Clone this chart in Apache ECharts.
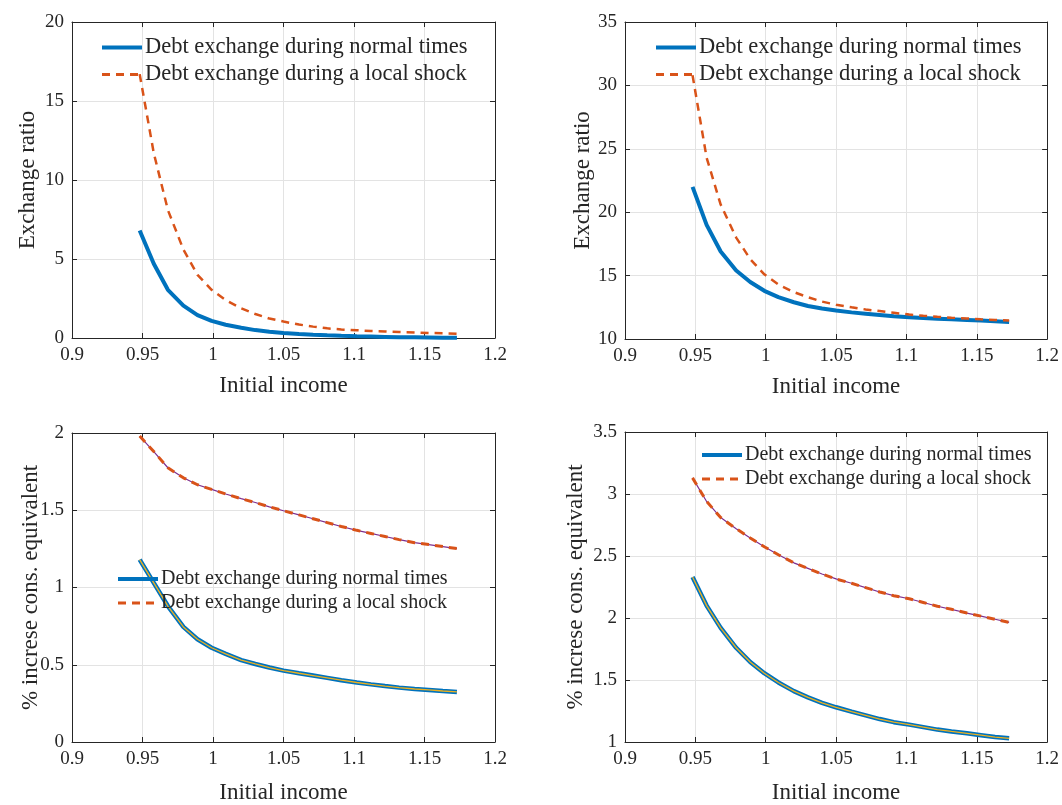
<!DOCTYPE html>
<html>
<head>
<meta charset="utf-8">
<script src="https://cdn.jsdelivr.net/npm/echarts@6/dist/echarts.min.js"></script>
<style>
  html, body { margin: 0; padding: 0; background: #fff; }
  #chart { width: 1062px; height: 805px; }
</style>
</head>
<body>
<div id="chart"></div>
<script>
// initial income grid (shared by all panels)
const incomeX = [0.948, 0.958, 0.968, 0.979, 0.989, 0.999, 1.009, 1.020, 1.030, 1.040, 1.050, 1.061,
  1.071, 1.081, 1.091, 1.102, 1.112, 1.122, 1.132, 1.143, 1.153, 1.163, 1.173]

// top left: exchange ratio
const ratioNormalA = [6.8, 4.7, 3.05, 2.05, 1.45, 1.08, 0.84, 0.65, 0.5, 0.4, 0.32, 0.26, 0.21, 0.17,
  0.14, 0.11, 0.09, 0.07, 0.05, 0.04, 0.03, 0.02, 0.02]
const ratioShockA = [16.7, 11.7, 8.1, 5.6, 4.0, 3.05, 2.4, 1.88, 1.52, 1.23, 1.04, 0.85, 0.72, 0.61,
  0.54, 0.49, 0.44, 0.41, 0.38, 0.35, 0.32, 0.3, 0.27]

// top right: exchange ratio
const ratioNormalB = [22.0, 19.0, 16.9, 15.4, 14.5, 13.8, 13.3, 12.9, 12.6, 12.4, 12.25, 12.1, 12.0,
  11.9, 11.8, 11.72, 11.65, 11.6, 11.55, 11.5, 11.45, 11.4, 11.35]
const ratioShockB = [30.8, 24.3, 20.6, 18.0, 16.3, 15.1, 14.3, 13.7, 13.3, 12.95, 12.7, 12.5, 12.33,
  12.2, 12.07, 11.93, 11.83, 11.75, 11.68, 11.62, 11.55, 11.5, 11.46]

// bottom left: % increase cons. equivalent
const consNormalA = [1.18, 1.03, 0.88, 0.745, 0.665, 0.61, 0.57, 0.53, 0.505, 0.482, 0.462, 0.445,
  0.43, 0.415, 0.4, 0.385, 0.373, 0.362, 0.352, 0.343, 0.337, 0.33, 0.324]
const consShockA = [1.98, 1.88, 1.775, 1.71, 1.665, 1.635, 1.605, 1.575, 1.55, 1.522, 1.497, 1.47,
  1.445, 1.42, 1.395, 1.37, 1.35, 1.33, 1.31, 1.29, 1.278, 1.265, 1.252]

// bottom right: % increase cons. equivalent
const consNormalB = [2.33, 2.1, 1.92, 1.76, 1.645, 1.555, 1.48, 1.41, 1.36, 1.315, 1.28, 1.245, 1.215,
  1.185, 1.16, 1.14, 1.12, 1.1, 1.085, 1.07, 1.055, 1.04, 1.03]
const consShockB = [3.13, 2.94, 2.81, 2.72, 2.645, 2.575, 2.51, 2.445, 2.4, 2.355, 2.315, 2.28, 2.245,
  2.21, 2.18, 2.155, 2.125, 2.095, 2.07, 2.04, 2.015, 1.99, 1.965]

// axis ranges [min, max, step]
const xRange = [0.9, 1.2, 0.05]
const yRangeA = [0, 20, 5]
const yRangeB = [10, 35, 5]
const yRangeC = [0, 2, 0.5]
const yRangeD = [1, 3.5, 0.5]

const nameNormal = 'Debt exchange during normal times'
const nameShock = 'Debt exchange during a local shock'

const FONT = 'Liberation Serif'
const INK = '#262626'

const panels = [
  { box: [72, 22, 495, 338], y: yRangeA, yName: 'Exchange ratio', yGap: 33, normal: ratioNormalA, shock: ratioShockA, overlay: false, legend: [100, 36], lfs: 22.5 },
  { box: [625, 22, 1048, 339], y: yRangeB, yName: 'Exchange ratio', yGap: 31, normal: ratioNormalB, shock: ratioShockB, overlay: false, legend: [654, 36], lfs: 22.5 },
  { box: [72, 433, 495, 750], y: yRangeC, yName: '% increse cons. equivalent', yGap: 30, normal: consNormalA, shock: consShockA, overlay: true, legend: [116, 569], lfs: 20 },
  { box: [625, 432, 1048, 750], y: yRangeD, yName: '% increse cons. equivalent', yGap: 38, normal: consNormalB, shock: consShockB, overlay: true, legend: [700, 445], lfs: 20 }
]

const pairs = (ys) => incomeX.map((x, i) => [x, ys[i]])
const fmt = (v) => String(+v.toFixed(2))

const grid = [], xAxis = [], yAxis = [], series = [], legend = []

panels.forEach((p, i) => {
  const [l, t, r, b] = p.box
  grid.push({ left: l, top: t, width: r - l, height: b - t, show: false })

  const common = {
    gridIndex: i,
    axisLine: { show: true, onZero: false, lineStyle: { color: INK, width: 1 } },
    axisTick: { show: true, inside: true, length: 5, lineStyle: { color: INK } },
    minorTick: { show: false }
  }
  // bottom x axis
  xAxis.push(Object.assign({}, common, {
    type: 'value', min: xRange[0], max: xRange[1], interval: xRange[2], position: 'bottom',
    name: 'Initial income', nameLocation: 'middle', nameGap: i < 2 ? 36 : 39,
    nameMoveOverlap: false,
    nameTextStyle: { fontFamily: FONT, fontSize: 23, color: INK },
    axisLabel: { fontFamily: FONT, fontSize: 19, color: INK, margin: 8, formatter: fmt },
    splitLine: { show: true, lineStyle: { color: '#e3e3e3', width: 1 } }
  }))
  // top x axis (box)
  xAxis.push(Object.assign({}, common, {
    type: 'value', min: xRange[0], max: xRange[1], interval: xRange[2], position: 'top',
    axisLabel: { show: false }, splitLine: { show: false }
  }))
  yAxis.push(Object.assign({}, common, {
    type: 'value', min: p.y[0], max: p.y[1], interval: p.y[2], position: 'left',
    name: p.yName, nameLocation: 'middle', nameGap: p.yGap,
    nameMoveOverlap: false,
    nameTextStyle: { fontFamily: FONT, fontSize: 23, color: INK },
    axisLabel: { fontFamily: FONT, fontSize: 19, color: INK, margin: 8, formatter: fmt },
    splitLine: { show: true, lineStyle: { color: '#e3e3e3', width: 1 } }
  }))
  yAxis.push(Object.assign({}, common, {
    type: 'value', min: p.y[0], max: p.y[1], interval: p.y[2], position: 'right',
    axisLabel: { show: false }, splitLine: { show: false }
  }))

  const xi = i * 2, yi = i * 2
  const wNormal = p.overlay ? 4.5 : 4
  const wShock = p.overlay ? 3 : 2.5
  series.push({
    name: nameNormal, type: 'line', xAxisIndex: xi, yAxisIndex: yi, data: pairs(p.normal),
    symbol: 'none', lineStyle: { color: '#0072BD', width: wNormal }, itemStyle: { color: '#0072BD' },
    silent: true, z: 2
  })
  if (p.overlay) {
    series.push({
      name: 'normal (check)', type: 'line', xAxisIndex: xi, yAxisIndex: yi, data: pairs(p.normal),
      symbol: 'none', lineStyle: { color: '#EDB120', width: 1.3 }, itemStyle: { color: '#EDB120' },
      silent: true, z: 3
    })
    series.push({
      name: 'shock (check)', type: 'line', xAxisIndex: xi, yAxisIndex: yi, data: pairs(p.shock),
      symbol: 'none', lineStyle: { color: '#7E2F8E', width: 1.2 }, itemStyle: { color: '#7E2F8E' },
      silent: true, z: 2
    })
  }
  series.push({
    name: nameShock, type: 'line', xAxisIndex: xi, yAxisIndex: yi, data: pairs(p.shock),
    symbol: 'none', lineStyle: { color: '#D95319', width: wShock, type: [8, 6] },
    itemStyle: { color: '#D95319' }, silent: true, z: 4
  })

  legend.push({
    data: [
      { name: nameNormal, lineStyle: { width: 4 } },
      { name: nameShock, lineStyle: { width: 3, type: [8, 6] } }
    ],
    left: p.legend[0], top: p.legend[1], orient: 'vertical',
    itemWidth: 40, itemHeight: 14, itemGap: 4, selectedMode: false, padding: 0,
    itemStyle: { opacity: 0 },
    textStyle: { fontFamily: FONT, fontSize: p.lfs, color: INK, padding: [0, 0, 0, -2] }
  })
})

const chart = echarts.init(document.getElementById('chart'), null, { renderer: 'canvas' })
chart.setOption({
  backgroundColor: '#ffffff',
  animation: false,
  grid, xAxis, yAxis, series, legend
})
</script>
</body>
</html>
